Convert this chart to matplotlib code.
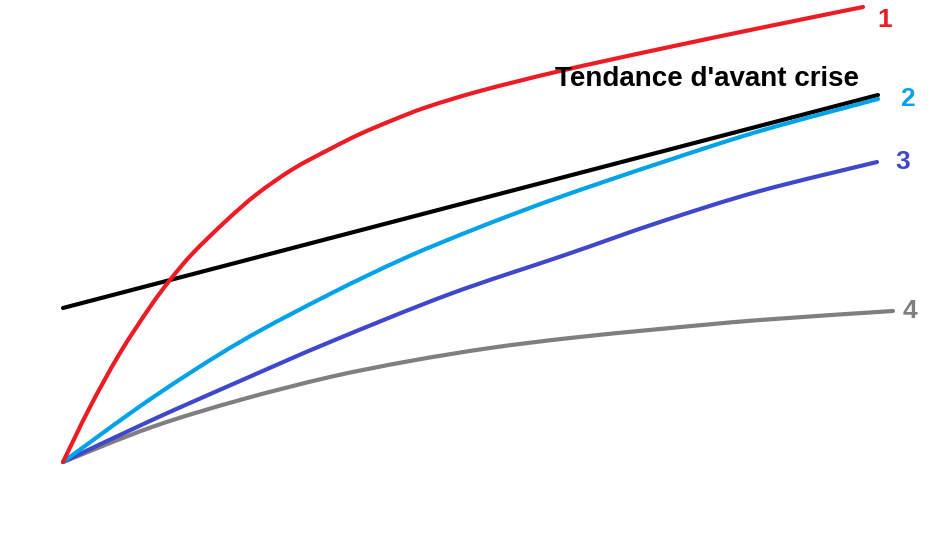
import matplotlib.pyplot as plt
from matplotlib.path import Path
from matplotlib.patches import PathPatch

# values (x: time from the start, y: level above the start)
red_x = [0, 27, 57, 87, 107, 130, 164, 194, 230, 267, 297, 330, 364, 417, 497, 597, 697, 800]
red_y = [0, 55, 109, 155, 182, 209, 242, 268, 293, 313, 328, 342, 355, 371, 391, 413, 434, 455]

trend_x = [0, 815]
trend_y = [154, 367]

blue_x = [0, 89, 177, 267, 342, 417, 497, 597, 697, 815]
blue_y = [0, 64, 120, 168, 204, 235, 265, 299, 331, 363]

purple_x = [0, 89, 177, 267, 387, 502, 597, 697, 814]
purple_y = [0, 42, 81, 120, 168, 207, 240, 271, 300]

gray_x = [0, 89, 177, 267, 347, 427, 507, 597, 697, 830]
gray_y = [0, 35, 62, 85, 101, 114, 124, 133, 142, 151]

labels = ["1", "2", "3", "4"]
trend_label = "Tendance d'avant crise"

plt.rcParams['font.family'] = ['Liberation Sans', 'DejaVu Sans']


def smooth_path(xs, ys):
    # Catmull-Rom through the read points, drawn as cubic Bezier segments
    pts = list(zip(xs, ys))
    verts = [pts[0]]
    codes = [Path.MOVETO]
    for i in range(len(pts) - 1):
        p0 = pts[i - 1] if i > 0 else pts[i]
        p1 = pts[i]
        p2 = pts[i + 1]
        p3 = pts[i + 2] if i + 2 < len(pts) else pts[i + 1]
        c1 = (p1[0] + (p2[0] - p0[0]) / 6, p1[1] + (p2[1] - p0[1]) / 6)
        c2 = (p2[0] - (p3[0] - p1[0]) / 6, p2[1] - (p3[1] - p1[1]) / 6)
        verts += [c1, c2, p2]
        codes += [Path.CURVE4] * 3
    return Path(verts, codes)


fig = plt.figure(figsize=(9.37, 5.44), dpi=100)
ax = fig.add_axes([0, 0, 1, 1])

lw = 3
series = [
    (trend_x, trend_y, "black"),
    (gray_x, gray_y, "#7F7F7F"),
    (purple_x, purple_y, "#3F48CC"),
    (blue_x, blue_y, "#00A2E8"),
    (red_x, red_y, "#ED1C24"),
]
for xs, ys, color in series:
    patch = PathPatch(smooth_path(xs, ys), fill=False, edgecolor=color,
                      linewidth=lw, capstyle="round", joinstyle="round")
    ax.add_patch(patch)

# end labels
ax.text(822, 442, labels[0], color="#ED1C24", fontsize=19, fontweight="bold", ha="center", va="center")
ax.text(844, 363, labels[1], color="#00A2E8", fontsize=19, fontweight="bold", ha="center", va="center")
ax.text(840, 300, labels[2], color="#3F48CC", fontsize=19, fontweight="bold", ha="center", va="center")
ax.text(847, 151, labels[3], color="#7F7F7F", fontsize=19, fontweight="bold", ha="center", va="center")
ax.text(492, 383, trend_label, color="black", fontsize=20, fontweight="bold", va="center")

ax.set_xlim(-63, 874)
ax.set_ylim(-82, 462)
ax.axis("off")

fig.savefig("out.png", dpi=100)
